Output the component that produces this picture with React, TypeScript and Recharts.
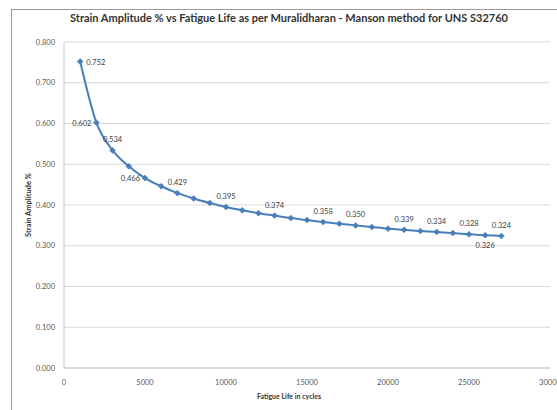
import React from 'react';
import { LineChart, Line, XAxis, YAxis, CartesianGrid, LabelList } from 'recharts';

// Fatigue life (cycles) vs strain amplitude (%)
const cycles = [
  1000, 2000, 3000, 4000, 5000, 6000, 7000, 8000, 9000, 10000, 11000, 12000, 13000, 14000,
  15000, 16000, 17000, 18000, 19000, 20000, 21000, 22000, 23000, 24000, 25000, 26000, 27000,
];
const strain = [
  0.752, 0.602, 0.534, 0.495, 0.466, 0.446, 0.429, 0.416, 0.405, 0.395, 0.387, 0.38, 0.374, 0.368,
  0.363, 0.358, 0.354, 0.35, 0.346, 0.342, 0.339, 0.336, 0.334, 0.331, 0.328, 0.326, 0.324,
];
// which points carry a data label, and where it sits
const labelled: Record<number, 'right' | 'left' | 'top' | 'bottom'> = {
  0: 'right', 1: 'left', 2: 'top', 4: 'left', 6: 'top', 9: 'top', 12: 'top', 15: 'top',
  17: 'top', 20: 'top', 22: 'top', 24: 'top', 25: 'bottom', 26: 'top',
};
const xTicks = [0, 5000, 10000, 15000, 20000, 25000, 30000];
const yTicks = [0, 0.1, 0.2, 0.3, 0.4, 0.5, 0.6, 0.7, 0.8];

const chartData = cycles.map((c, i) => ({ cycles: c, strain: strain[i] }));

const BLUE = '#4a7ebb';
const FONT = 'Lato, "Open Sans", sans-serif';

const Diamond = (props: any) => {
  const { cx, cy } = props;
  if (cx == null || cy == null) return null;
  const r = 3;
  return (
    <polygon
      points={`${cx},${cy - r} ${cx + r},${cy} ${cx},${cy + r} ${cx - r},${cy}`}
      fill={BLUE}
      stroke={BLUE}
      strokeWidth={0.5}
    />
  );
};

const PointLabel = (props: any) => {
  const { x, y, index, value } = props;
  const pos = labelled[index];
  if (!pos) return null;
  let tx = x;
  let ty = y;
  let anchor: 'start' | 'end' | 'middle' = 'middle';
  if (pos === 'right') { tx = x + 6; anchor = 'start'; ty = y + 3; }
  if (pos === 'left') { tx = x - 5; anchor = 'end'; ty = y + 3; }
  if (pos === 'top') { ty = y - 8; }
  if (pos === 'bottom') { ty = y + 13; }
  return (
    <text x={tx} y={ty} textAnchor={anchor} fontSize={7.5} fill="#404040" fontFamily={FONT}>
      {Number(value).toFixed(3)}
    </text>
  );
};

export default function App() {
  return (
    <div
      style={{
        position: 'absolute',
        left: 0,
        top: 0,
        width: 557,
        height: 410,
        overflow: 'hidden',
        background: '#fff',
        fontFamily: FONT,
      }}
    >
      <div
        style={{
          position: 'absolute',
          left: 11,
          top: 9,
          width: 600,
          height: 450,
          border: '1px solid #9a9a9a',
        }}
      />
      <div
        style={{
          position: 'absolute',
          left: 0,
          top: 11,
          width: 578,
          textAlign: 'center',
          fontSize: 11,
          fontWeight: 700,
          color: '#333',
        }}
      >
        Strain Amplitude % vs Fatigue Life as per Muralidharan - Manson method for UNS S32760
      </div>
      <div
        style={{
          position: 'absolute',
          left: 0,
          top: 392,
          width: 578,
          textAlign: 'center',
          fontSize: 7,
          fontWeight: 700,
          color: '#333',
        }}
      >
        Fatigue Life in cycles
      </div>
      <div
        style={{
          position: 'absolute',
          left: 28,
          top: 205,
          transform: 'translate(-50%, -50%) rotate(-90deg)',
          whiteSpace: 'nowrap',
          fontSize: 7.5,
          fontWeight: 700,
          color: '#333',
        }}
      >
        Strain Amplitude %
      </div>
      <div style={{ position: 'absolute', left: 0, top: 0 }}>
        <LineChart
          width={557}
          height={410}
          data={chartData}
          margin={{ top: 42, right: 7, left: 0, bottom: 12 }}
        >
          <CartesianGrid horizontal vertical={false} stroke="#d9d9d9" />
          <XAxis
            dataKey="cycles"
            type="number"
            domain={[0, 30000]}
            ticks={xTicks}
            height={30}
            tick={{ fontSize: 7.5, fill: '#595959', fontFamily: FONT }}
            tickLine={false}
            axisLine={{ stroke: '#c8c8c8' }}
            tickMargin={6}
            interval={0}
          />
          <YAxis
            type="number"
            domain={[0, 0.8]}
            ticks={yTicks}
            width={64}
            tickFormatter={(v: number) => v.toFixed(3)}
            tick={{ fontSize: 7.5, fill: '#595959', fontFamily: FONT }}
            tickLine={false}
            axisLine={{ stroke: '#c8c8c8' }}
            tickMargin={3}
            interval={0}
          />
          <Line
            type="monotone"
            dataKey="strain"
            stroke={BLUE}
            strokeWidth={2}
            dot={<Diamond />}
            activeDot={false}
            isAnimationActive={false}
          >
            <LabelList dataKey="strain" content={<PointLabel />} />
          </Line>
        </LineChart>
      </div>
    </div>
  );
}
